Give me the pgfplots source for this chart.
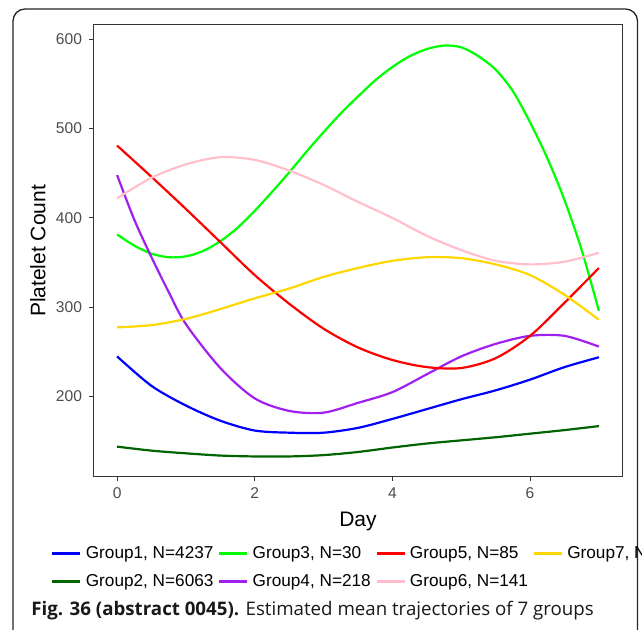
\documentclass[border=0pt]{standalone}
\usepackage{pgfplots}
\pgfplotsset{compat=1.18}
\usepackage{fontspec}
\setmainfont{Liberation Sans}
\newfontfamily\capfont{Open Sans}
\definecolor{cG1}{RGB}{0,0,255}
\definecolor{cG2}{RGB}{0,100,0}
\definecolor{cG3}{RGB}{0,255,0}
\definecolor{cG4}{RGB}{160,32,240}
\definecolor{cG5}{RGB}{255,0,0}
\definecolor{cG6}{RGB}{255,192,203}
\definecolor{cG7}{RGB}{255,215,0}
\definecolor{tickgray}{RGB}{77,77,77}
\definecolor{framegray}{RGB}{51,51,51}
\begin{document}
\begin{tikzpicture}[x=1pt,y=1pt]
\useasboundingbox (0,0) rectangle (321,315);
\clip (0,0) rectangle (321,315);
\draw[line width=0.65pt, rounded corners=6pt, black!85] (6.5,-10) rectangle (318.75,310.5);
\begin{axis}[
  at={(46.5pt,76.5pt)}, anchor=south west,
  scale only axis, width=265pt, height=226pt,
  xmin=-0.35, xmax=7.35, ymin=110, ymax=616,
  xtick={0,2,4,6}, ytick={200,300,400,500,600},
  axis line style={framegray, line width=0.5pt},
  tick align=outside, major tick length=2pt,
  tick style={framegray, line width=0.5pt},
  xtick pos=bottom, ytick pos=left,
  /pgf/number format/assume math mode=true,
  tick label style={font=\fontsize{7.8}{9}\selectfont, text=tickgray},
  xlabel={Day}, ylabel={Platelet Count},
  label style={font=\fontsize{10.5}{12}\selectfont},
  xlabel style={at={(axis description cs:0.5,-0.0973)}, anchor=center},
  ylabel style={at={(axis description cs:-0.1038,0.5)}, anchor=center},
  legend columns=4, legend cell align=left,
  legend image code/.code={\draw[#1] (0pt,0pt) -- (14pt,0pt);},
  legend style={at={(axis description cs:-0.0792,-0.1524)}, anchor=north west,
    draw=none, fill=none, inner sep=0pt, outer sep=0pt,
    font=\fontsize{8.6}{10}\selectfont,
    nodes={inner sep=0pt, text height=6.2pt, text depth=1.7pt},
    column sep=0pt, row sep=6.1pt,
    /tikz/every odd column/.append style={column sep=2pt},
    /tikz/every even column/.append style={column sep=2.2pt}},
]
% Group1
\addplot[cG1, line width=1.1pt, smooth, forget plot] coordinates {
(0,245) (0.5,212) (1,190) (1.5,173) (2,162) (2.5,159.6) (3,159.6) (3.5,165) (4,175) (4.5,186) (5,197) (5.5,207) (6,219) (6.5,233) (7,244)};
% Group2
\addplot[cG2, line width=1.1pt, smooth, forget plot] coordinates {
(0,144) (0.5,139.5) (1,136.5) (1.5,134) (2,133) (2.5,133) (3,134.5) (3.5,138) (4,143) (4.5,147.5) (5,151) (5.5,154.5) (6,158.5) (6.5,162.5) (7,167)};
% Group3
\addplot[cG3, line width=1.1pt, smooth, forget plot] coordinates {
(0,381.5) (0.25,369) (0.5,360) (0.75,356) (1,357) (1.25,363) (1.5,374) (1.75,389) (2,408) (2.25,429) (2.5,451) (2.75,474) (3,496) (3.25,517) (3.5,536) (3.75,554) (4,569) (4.25,581) (4.5,589) (4.75,593) (5,591) (5.25,581) (5.5,566) (5.75,542) (6,507) (6.25,467) (6.5,420) (6.75,364) (7,296)};
% Group4
\addplot[cG4, line width=1.1pt, smooth, forget plot] coordinates {
(0,448) (0.25,398) (0.5,356) (0.75,317) (1,281) (1.5,232) (2,198) (2.5,184) (3,182) (3.5,193) (4,205) (4.5,225) (5,245) (5.5,259) (6,268) (6.5,268) (7,256)};
% Group5
\addplot[cG5, line width=1.1pt, smooth, forget plot] coordinates {
(0,481) (0.5,446) (1,410) (1.5,373) (2,336) (2.5,304) (3,276) (3.5,255) (4,241) (4.5,233) (5,232) (5.5,243) (6,268) (6.5,305) (7,344)};
% Group6
\addplot[cG6, line width=1.1pt, smooth, forget plot] coordinates {
(0,422) (0.5,445) (1,460) (1.5,468) (2,465) (2.5,453) (3,437) (3.5,418) (4,400) (4.5,380) (5,364) (5.5,352) (6,348) (6.5,351) (7,361)};
% Group7
\addplot[cG7, line width=1.1pt, smooth, forget plot] coordinates {
(0,277.5) (0.5,280) (1,287) (1.5,298) (2,310) (2.5,321) (3,334) (3.5,344) (4,352) (4.5,356) (5,355) (5.5,348) (6,336) (6.5,314) (7,286)};
\addlegendimage{cG1, line width=1.4pt}\addlegendentry{Group1, N=4237}
\addlegendimage{cG3, line width=1.4pt}\addlegendentry{Group3, N=30}
\addlegendimage{cG5, line width=1.4pt}\addlegendentry{Group5, N=85}
\addlegendimage{cG7, line width=1.4pt}\addlegendentry{Group7, N=136}
\addlegendimage{cG2, line width=1.4pt}\addlegendentry{Group2, N=6063}
\addlegendimage{cG4, line width=1.4pt}\addlegendentry{Group4, N=218}
\addlegendimage{cG6, line width=1.4pt}\addlegendentry{Group6, N=141}
\end{axis}
\node[anchor=base west, inner sep=0pt, text=black!90] at (15.5,7.3)
  {\capfont\fontsize{9.35}{11}\selectfont\textbf{Fig. 36 (abstract 0045).} Estimated mean trajectories of 7 groups};
\end{tikzpicture}
\end{document}
